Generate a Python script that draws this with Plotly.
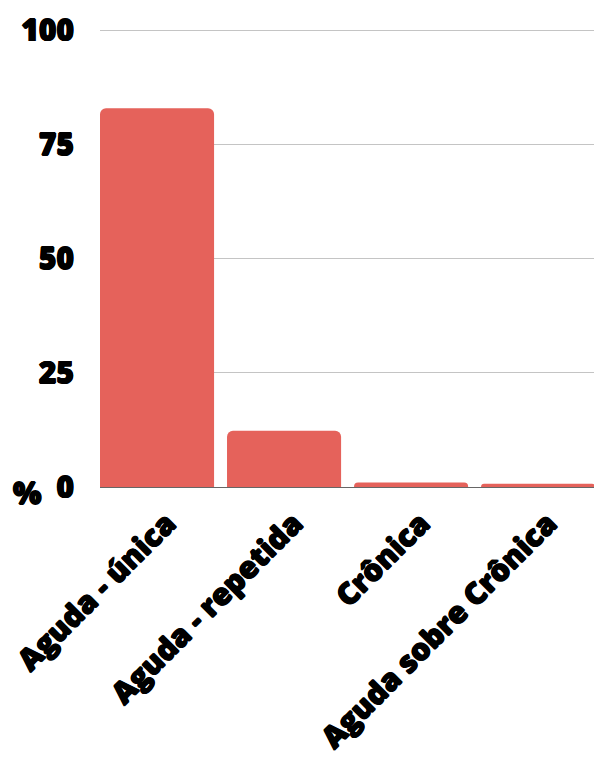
import plotly.graph_objects as go

categorias = ["Aguda - única", "Aguda - repetida", "Crônica", "Aguda sobre Crônica"]
percentuais = [82.9, 12.3, 1.0, 0.7]
marcas_y = [0, 25, 50, 75, 100]

# heavy black labels: bold face thickened with a thin text shadow
contorno = "0.7px 0 0 #000, -0.7px 0 0 #000, 0 0.7px 0 #000, 0 -0.7px 0 #000"
fonte = dict(family="Open Sans", size=30, color="#000000", weight=800, shadow=contorno)

fig = go.Figure(
    go.Bar(
        x=categorias,
        y=percentuais,
        marker=dict(color="#e5625b", line=dict(width=0)),
        width=0.898,
        hoverinfo="skip",
    )
)

fig.update_layout(
    width=594,
    height=760,
    margin=dict(l=100, r=0, t=29, b=273),
    paper_bgcolor="white",
    plot_bgcolor="white",
    barcornerradius=6,
    showlegend=False,
    font=fonte,
)

fig.update_xaxes(
    type="category",
    range=[-0.449, 3.44],
    tickangle=-45,
    ticklabeloverflow="allow",
    ticklabelshift=10,
    ticklabelstandoff=6,
    showgrid=False,
    showline=True,
    linecolor="#666666",
    linewidth=1,
    ticks="",
    tickfont=fonte,
)

fig.update_yaxes(
    range=[0, 100.25],
    tickmode="array",
    tickvals=marcas_y,
    ticktext=[str(v) for v in marcas_y],
    showgrid=True,
    gridcolor="#c4c4c4",
    gridwidth=1,
    zeroline=False,
    showline=False,
    ticks="",
    ticklabelstandoff=25,
    tickfont=fonte,
)

fig.add_annotation(
    text="%",
    xref="paper",
    yref="y",
    x=0,
    y=0,
    xshift=-57,
    yshift=-5,
    xanchor="right",
    yanchor="middle",
    showarrow=False,
    font=fonte,
)

fig.write_html("out.html")
